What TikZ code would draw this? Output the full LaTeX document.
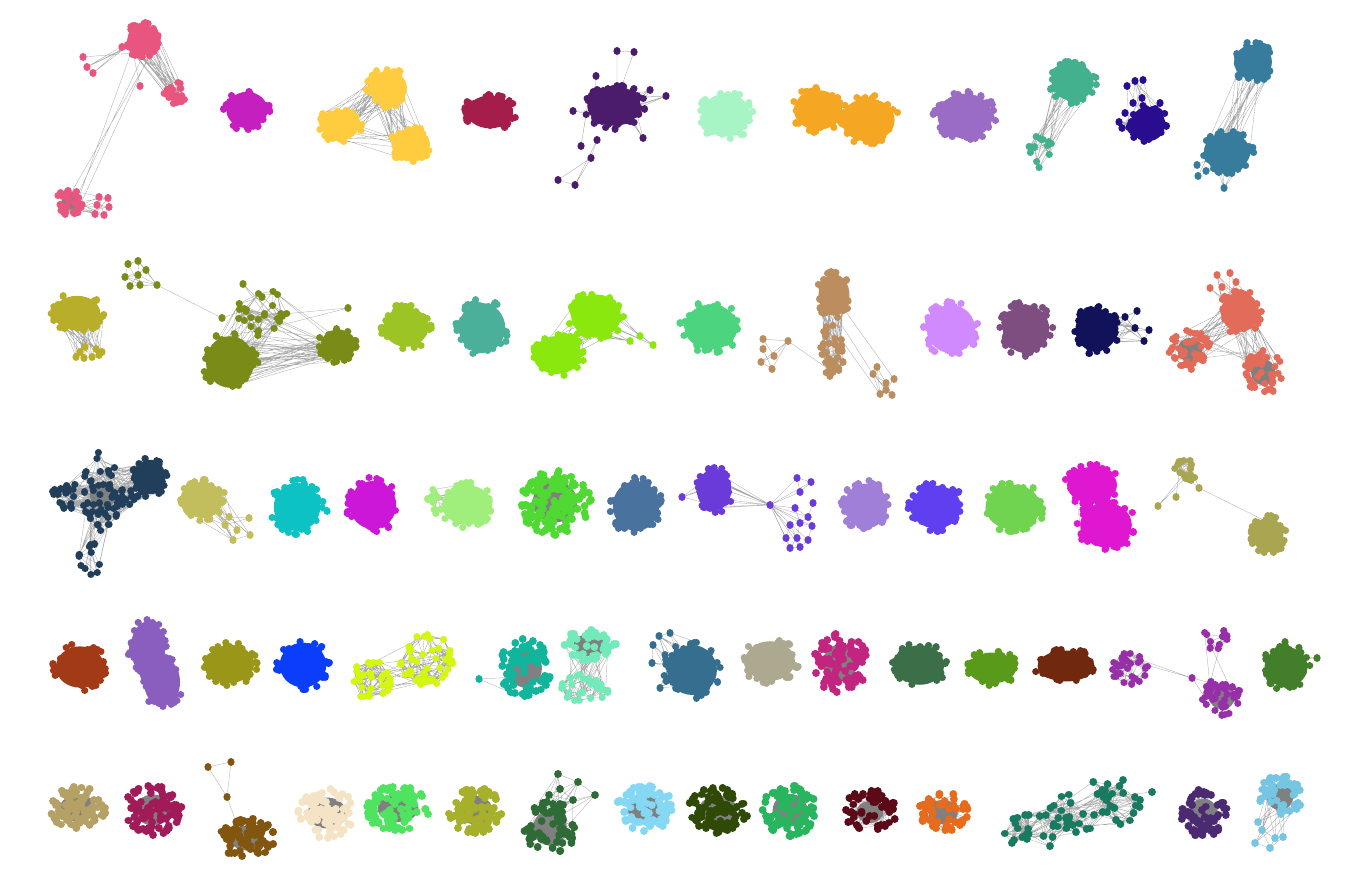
\documentclass[tikz,border=0pt]{standalone}
\usepackage{tikz}
\definecolor{eg}{HTML}{808080}
\definecolor{cA}{HTML}{E8557F}\definecolor{cB}{HTML}{C51FBF}\definecolor{cC}{HTML}{FFCC3F}
\definecolor{cD}{HTML}{A51D4B}\definecolor{cE}{HTML}{4B1B6C}\definecolor{cF}{HTML}{A7F4C5}
\definecolor{cG}{HTML}{F5A623}\definecolor{cH}{HTML}{9A6CC5}\definecolor{cI}{HTML}{43B08E}
\definecolor{cJ}{HTML}{2A0C90}\definecolor{cK}{HTML}{377C9C}\definecolor{cLy}{HTML}{B8AE29}
\definecolor{cL}{HTML}{7A8C17}\definecolor{cM}{HTML}{9BC424}\definecolor{cN}{HTML}{4BB09A}
\definecolor{cO}{HTML}{8BE80F}\definecolor{cP}{HTML}{4CD47F}\definecolor{cQ}{HTML}{BC8E5F}
\definecolor{cR}{HTML}{D18AFE}\definecolor{cS}{HTML}{7D4E7F}\definecolor{cT}{HTML}{12125A}
\definecolor{cU}{HTML}{E26C59}
\definecolor{dA}{HTML}{213F5A}\definecolor{dB}{HTML}{C2BD5D}\definecolor{dC}{HTML}{0CC2C3}
\definecolor{dD}{HTML}{CC17D8}\definecolor{dE}{HTML}{A0EE7B}\definecolor{dF}{HTML}{50D933}
\definecolor{dG}{HTML}{49739E}\definecolor{dH}{HTML}{6A3BD8}\definecolor{dI}{HTML}{A07FD8}
\definecolor{dJ}{HTML}{5F3FF0}\definecolor{dK}{HTML}{70D450}\definecolor{dL}{HTML}{E017D0}
\definecolor{dM}{HTML}{A9A550}
\definecolor{eA}{HTML}{A23A18}\definecolor{eB}{HTML}{8A5EBF}\definecolor{eC}{HTML}{9A9618}
\definecolor{eD}{HTML}{0B3EFA}\definecolor{eE}{HTML}{D4F60F}\definecolor{eF}{HTML}{10B59B}
\definecolor{eG}{HTML}{72EAB9}\definecolor{eH}{HTML}{356E8E}\definecolor{eI}{HTML}{ADA990}
\definecolor{eJ}{HTML}{C1257F}\definecolor{eK}{HTML}{3A6F48}\definecolor{eL}{HTML}{5A9A1A}
\definecolor{eM}{HTML}{70290F}\definecolor{eN}{HTML}{962FA8}\definecolor{eO}{HTML}{437E2A}
\definecolor{fA}{HTML}{B5A065}\definecolor{fB}{HTML}{A01B58}\definecolor{fC}{HTML}{82560F}
\definecolor{fD}{HTML}{F4E3C5}\definecolor{fE}{HTML}{4EE45F}\definecolor{fF}{HTML}{A7B02A}
\definecolor{fG}{HTML}{2E6B36}\definecolor{fH}{HTML}{84D8F3}\definecolor{fI}{HTML}{2E4A06}
\definecolor{fJ}{HTML}{28B55E}\definecolor{fK}{HTML}{5C0A17}\definecolor{fL}{HTML}{E66B1C}
\definecolor{fM}{HTML}{177A61}\definecolor{fN}{HTML}{4B2A72}\definecolor{fO}{HTML}{76C5E3}
\def\Kr{3.6}\def\Kq{3.9}\def\Kex{0.4}\def\Kbs{0.86}
% random points in an ellipse
\newcommand\Kpts[6]{%
  \expandafter\xdef\csname cn@#1\endcsname{#6}%
  \foreach \i in {1,...,#6}{%
    \pgfmathsetmacro\ang{rnd*360}%
    \pgfmathsetmacro\rr{rnd^\Kex}%
    \pgfmathsetmacro\px{#2+#4*\rr*cos(\ang)}%
    \pgfmathsetmacro\py{#3+#5*\rr*sin(\ang)}%
    \expandafter\xdef\csname px@#1@\i\endcsname{\px}%
    \expandafter\xdef\csname py@#1@\i\endcsname{\py}%
    \coordinate (#1-\i) at (\px,\py);%
  }}
% fixed points
\newcommand\Kfix[2]{%
  \foreach \xx/\yy [count=\i] in {#2}{%
    \expandafter\xdef\csname px@#1@\i\endcsname{\xx}%
    \expandafter\xdef\csname py@#1@\i\endcsname{\yy}%
    \coordinate (#1-\i) at (\xx,\yy);%
    \xdef\Klast{\i}}%
  \expandafter\xdef\csname cn@#1\endcsname{\Klast}}
\newcommand\Kedge[2]{\Kbridge{#1}{#1}{#2}}
\newcommand\Kbridge[3]{%
  \edef\na{\csname cn@#1\endcsname}\edef\nb{\csname cn@#2\endcsname}%
  \gdef\Klist{}%
  \foreach \k in {1,...,#3}{%
    \pgfmathtruncatemacro\ka{min(\na,1+floor(rnd*\na))}%
    \pgfmathtruncatemacro\kb{min(\nb,1+floor(rnd*\nb))}%
    \xdef\Klist{\Klist (#1-\ka) -- (#2-\kb) }}%
  \draw[edge] \Klist;}
\newcommand\Knear[2]{%
  \edef\nn{\csname cn@#1\endcsname}%
  \gdef\Klist{}%
  \foreach \i in {1,...,\nn}{%
    \foreach \j in {\i,...,\nn}{%
      \edef\xa{\csname px@#1@\i\endcsname}\edef\ya{\csname py@#1@\i\endcsname}%
      \edef\xb{\csname px@#1@\j\endcsname}\edef\yb{\csname py@#1@\j\endcsname}%
      \pgfmathtruncatemacro\ok{veclen(\xa-\xb,\ya-\yb)<#2}%
      \ifnum\ok=1 \xdef\Klist{\Klist (#1-\i) -- (#1-\j) }\fi}}%
  \draw[edge] \Klist;}
\newcommand\Kdots[3]{%
  \edef\nn{\csname cn@#1\endcsname}%
  \draw[#2, line width=2*#3, line cap=round] \foreach \i in {1,...,\nn}{(#1-\i) -- ++(0.02,0)};}
\newcommand\Kbase[5]{\fill[#5] (#1,#2) ellipse [x radius={\Kbs*#3}, y radius={\Kbs*#4}];}
\newcommand\Solid[7]{\Kpts{#1}{#2}{#3}{#4}{#5}{#6}\Kbase{#2}{#3}{#4}{#5}{#7}\Kdots{#1}{#7}{\Kr}}
\newcommand\Grey[7]{{\def\Kex{0.5}\def\Kbs{0.62}\Kpts{#1}{#2}{#3}{#4}{#5}{#6}\Kbase{#2}{#3}{#4}{#5}{eg}\Kdots{#1}{#7}{\Kq}}}
\begin{document}
\begin{tikzpicture}[x=1pt,y=-1pt,edge/.style={draw=eg!70,line width=0.3pt}]
\pgfmathsetseed{7}
\useasboundingbox (0,0) rectangle (1360,896);
% ===== Row 1 =====
% pink
\Kpts{pa}{142}{40}{17}{18}{52}\Kpts{pb}{175}{94}{11}{13}{22}\Kpts{pc}{70}{202}{14}{13}{32}
\Kfix{pd}{83/57,87/67,93/73,140/86,122/47}
\Kfix{pe}{99/197,108/198,109/207,97/205,95/214,104/215}
\Kbridge{pa}{pb}{30}\Kbridge{pa}{pd}{10}\Kbridge{pa}{pc}{4}\Kbridge{pc}{pe}{14}
\Kedge{pb}{50}\Kedge{pc}{40}\Kedge{pe}{8}
\Kbase{142}{40}{17}{18}{cA}{\def\Kbs{0.6}\Kbase{70}{202}{14}{13}{eg}}
\Kdots{pa}{cA}{\Kr}\Kdots{pb}{cA}{\Kr}\Kdots{pc}{cA}{\Kr}\Kdots{pd}{cA}{\Kr}\Kdots{pe}{cA}{\Kr}
% magenta
\Solid{mg}{247}{110}{24}{21}{55}{cB}
% yellow
\Kpts{ya}{388}{88}{22}{20}{50}\Kpts{yb}{340}{125}{22}{18}{50}\Kpts{yc}{410}{145}{21}{19}{48}
\Kbridge{ya}{yb}{30}\Kbridge{ya}{yc}{30}\Kbridge{yb}{yc}{8}
\Kbase{388}{88}{22}{20}{cC}\Kbase{340}{125}{22}{18}{cC}\Kbase{410}{145}{21}{19}{cC}
\Kdots{ya}{cC}{\Kr}\Kdots{yb}{cC}{\Kr}\Kdots{yc}{cC}{\Kr}
% crimson
\Solid{cr}{490}{112}{27}{19}{52}{cD}
% dark purple
\Kpts{pu}{614}{106}{31}{23}{74}
\Kfix{pv}{617/51,634/52,591/158,558/180,575/185,617/86,621/88,597/140}
\Kfix{pw}{573/111,596/76,666/96,643/138,581/146,650/90}
\draw[edge] (pv-1) -- (pv-2) (pv-1) -- (pv-6) (pv-2) -- (pv-7) (pv-3) -- (pv-4) (pv-3) -- (pv-5) (pv-4) -- (pv-5) (pv-3) -- (pv-8) (pv-5) -- (pv-8);
\Kbridge{pu}{pw}{20}\Kedge{pu}{40}
\Kbase{614}{106}{31}{23}{cE}
\Kdots{pu}{cE}{\Kr}\Kdots{pv}{cE}{\Kr}\Kdots{pw}{cE}{\Kr}
% mint, orange, lavender
\Solid{mi}{726}{115}{28}{25}{60}{cF}
\Solid{oa}{818}{110}{28}{23}{58}{cG}\Solid{ob}{868}{120}{31}{25}{62}{cG}
\Solid{lv}{965}{116}{32}{26}{68}{cH}
% teal
\Kpts{ta}{1073}{82}{24}{22}{52}\Kpts{tb}{1040}{152}{13}{18}{14}
\Kbridge{ta}{tb}{18}\Kedge{tb}{30}
\Kbase{1073}{82}{24}{22}{cI}\Kdots{ta}{cI}{\Kr}\Kdots{tb}{cI}{\Kr}
% indigo
\Kpts{ia}{1148}{124}{20}{20}{46}
\Kfix{ib}{1127/86,1135/81,1143/80,1142/98,1133/103,1125/113,1119/122,1160/103,1122/128}
\Kbridge{ia}{ib}{25}\Kedge{ib}{10}
\Kbase{1148}{124}{20}{20}{cJ}\Kdots{ia}{cJ}{\Kr}\Kdots{ib}{cJ}{\Kr}
% steel blue
\Kpts{sa}{1253}{62}{22}{20}{50}\Kpts{sb}{1227}{152}{27}{22}{60}
\Kfix{sc}{1224/188,1197/165,1198/176,1206/171}
\Kbridge{sa}{sb}{20}\Kbridge{sb}{sc}{10}
\Kbase{1253}{62}{22}{20}{cK}\Kbase{1227}{152}{27}{22}{cK}
\Kdots{sa}{cK}{\Kr}\Kdots{sb}{cK}{\Kr}\Kdots{sc}{cK}{\Kr}
% ===== Row 2 =====
\Kpts{oy}{77}{313}{27}{20}{56}
\Kfix{oz}{76/357,84/358,92/357,99/355,102/352,85/347,80/352,96/349}
\Kbridge{oy}{oz}{35}\Kbase{77}{313}{27}{20}{cLy}
\Kdots{oy}{cLy}{\Kr}\Kdots{oz}{cLy}{\Kr}
% olive green
\Kfix{ga}{128/264,138/261,146/270,138/275,125/277,130/286,140/285,157/285}
\Kpts{gb}{230}{362}{28}{30}{85}\Kpts{gc}{262}{312}{25}{24}{26}\Kpts{gd}{338}{345}{20}{18}{45}
\Kfix{ge}{348/308,243/284,262/297,222/318}
\Kedge{ga}{20}\draw[edge] (ga-8) -- (ge-4);
\Knear{gc}{22}\Kbridge{gc}{gb}{25}\Kbridge{gb}{gd}{35}\Kbridge{gc}{gd}{10}\Kbridge{ge}{gc}{8}
\Kbase{230}{362}{28}{30}{cL}\Kbase{338}{345}{20}{18}{cL}
\Kdots{ga}{cL}{\Kr}\Kdots{gb}{cL}{\Kr}\Kdots{gc}{cL}{\Kr}\Kdots{gd}{cL}{\Kr}\Kdots{ge}{cL}{\Kr}
\Solid{yg}{406}{327}{26}{23}{52}{cM}
\Solid{tl}{482}{328}{27}{29}{62}{cN}
% lime
\Kpts{la}{596}{316}{29}{25}{62}\Kpts{lb}{557}{355}{28}{22}{56}\Kfix{lc}{653/345,640/336,630/341}
\Kbridge{la}{lb}{20}\Kbridge{la}{lc}{10}
\Kbase{596}{316}{29}{25}{cO}\Kbase{557}{355}{28}{22}{cO}
\Kdots{la}{cO}{\Kr}\Kdots{lb}{cO}{\Kr}\Kdots{lc}{cO}{\Kr}
% green
\Kpts{gr}{711}{327}{31}{26}{66}\Kfix{gs}{680/323}\Kbridge{gr}{gs}{3}
\Kbase{711}{327}{31}{26}{cP}\Kdots{gr}{cP}{\Kr}\Kdots{gs}{cP}{\Kr}
% tan
\Kpts{na}{834}{295}{18}{24}{44}\Kpts{nb}{833}{350}{13}{27}{35}
\Kfix{nc}{763/339,763/349,774/356,761/362,772/369,788/341}
\Kfix{nd}{877/367,894/379,886/383,873/374,880/394,892/395,886/390}
\Kbridge{na}{nb}{40}\Knear{nb}{15}\Kedge{nc}{12}\Kedge{nd}{14}
\draw[edge] (nc-6) -- (nb-1);\Kbridge{nd}{na}{3}
\Kbase{834}{295}{18}{24}{cQ}
\Kdots{na}{cQ}{\Kr}\Kdots{nb}{cQ}{\Kr}\Kdots{nc}{cQ}{\Kr}\Kdots{nd}{cQ}{\Kr}
\Solid{vi}{951}{329}{28}{28}{62}{cR}
\Solid{pl}{1026}{329}{27}{28}{62}{cS}
% navy
\Kpts{nv}{1096}{330}{24}{25}{55}\Kfix{nw}{1125/317,1137/311,1135/328,1149/330,1144/341}
\Kbridge{nv}{nw}{20}\Kedge{nw}{10}
\Kbase{1096}{330}{24}{25}{cT}\Kdots{nv}{cT}{\Kr}\Kdots{nw}{cT}{\Kr}
% coral
\Kpts{ka}{1240}{312}{22}{23}{50}\Kpts{kb}{1190}{350}{21}{20}{45}\Kpts{kc}{1263}{372}{20}{22}{45}
\Kfix{kd}{1217/275,1230/273,1236/282,1222/287,1210/288}
\Kbridge{ka}{kb}{25}\Kbridge{ka}{kc}{25}\Kbridge{ka}{kd}{15}\Kbridge{kb}{kc}{5}\Kedge{kb}{40}\Kedge{kc}{40}
\Kbase{1240}{312}{22}{23}{cU}{\def\Kbs{0.6}\Kbase{1190}{350}{21}{20}{eg}\Kbase{1263}{372}{20}{22}{eg}}
\Kdots{ka}{cU}{\Kr}\Kdots{kb}{cU}{\Kr}\Kdots{kc}{cU}{\Kr}\Kdots{kd}{cU}{\Kr}
% ===== Row 3 =====
\Kpts{da}{95}{497}{45}{18}{45}\Kpts{db}{103}{488}{20}{45}{40}\Kpts{dc}{150}{477}{18}{20}{46}\Kpts{dd}{90}{560}{13}{17}{12}
\Kbridge{da}{db}{80}\Kedge{da}{80}\Kedge{db}{80}\Kbridge{db}{dc}{50}\Kbridge{da}{dc}{30}\Kbridge{db}{dd}{20}\Kedge{dd}{25}
\Kbase{150}{477}{18}{20}{dA}{\def\Kbs{0.6}\Kbase{103}{495}{22}{22}{eg}}
\Kdots{da}{dA}{\Kr}\Kdots{db}{dA}{\Kr}\Kdots{dc}{dA}{\Kr}\Kdots{dd}{dA}{\Kr}
% khaki
\Kpts{ha}{203}{500}{23}{21}{50}\Kfix{hb}{229/517,249/518,237/530,233/540,250/535,225/525}
\Kbridge{ha}{hb}{15}\Kedge{hb}{10}
\Kbase{203}{500}{23}{21}{dB}\Kdots{ha}{dB}{\Kr}\Kdots{hb}{dB}{\Kr}
% cyan
\Kpts{cy}{297}{507}{27}{28}{62}\Kfix{cz}{327/511}\Kbridge{cy}{cz}{3}
\Kbase{297}{507}{27}{28}{dC}\Kdots{cy}{dC}{\Kr}\Kdots{cz}{dC}{\Kr}
\Solid{mz}{373}{505}{27}{28}{62}{dD}
% light green
\Kpts{lg}{467}{505}{29}{23}{56}\Kpts{lh}{436}{505}{9}{17}{12}\Kbridge{lg}{lh}{25}\Kedge{lh}{10}
\Kbase{467}{505}{29}{23}{dE}\Kdots{lg}{dE}{\Kr}\Kdots{lh}{dE}{\Kr}
\Grey{bg}{555}{502}{36}{33}{130}{dF}
\Solid{sl}{636}{506}{27}{29}{62}{dG}
% purple with hub
\Kpts{pp}{714}{490}{20}{24}{48}\Kfix{po}{682/497}\Kfix{ph}{770/505}
\Kfix{pr}{797/478,811/482,800/492,813/503,795/508,808/517,790/525,800/523,812/526,786/538,797/538,808/540,800/547,790/548}
\Kbridge{pp}{ph}{12}\Kbridge{pp}{po}{4}\Kbridge{ph}{pr}{20}\Knear{pr}{16}
\Kbase{714}{490}{20}{24}{dH}
\Kdots{pp}{dH}{\Kr}\Kdots{po}{dH}{\Kr}\Kdots{ph}{dH}{\Kr}\Kdots{pr}{dH}{\Kr}
\Solid{lw}{866}{506}{25}{26}{56}{dI}
\Solid{bv}{936}{507}{29}{25}{62}{dJ}
\Solid{gn}{1013}{507}{32}{26}{68}{dK}
% magenta pair
\Kpts{ma}{1092}{485}{29}{21}{56}\Kpts{mb}{1106}{525}{30}{26}{66}\Kbridge{ma}{mb}{20}\Kedge{ma}{20}
\Kbase{1092}{485}{29}{21}{dL}\Kbase{1106}{525}{30}{26}{dL}\Kdots{ma}{dL}{\Kr}\Kdots{mb}{dL}{\Kr}
% olive khaki
\Kpts{qa}{1186}{470}{12}{12}{16}\Kfix{qb}{1158/506,1176/497,1199/488}\Kpts{qc}{1268}{535}{18}{20}{42}
\Knear{qa}{15}\Kbridge{qa}{qb}{5}\draw[edge] (qb-3) -- (qc-1);
\Kbase{1268}{535}{18}{20}{dM}\Kdots{qa}{dM}{\Kr}\Kdots{qb}{dM}{\Kr}\Kdots{qc}{dM}{\Kr}
% ===== Row 4 =====
\Solid{ru}{80}{667}{28}{24}{56}{eA}
\Kpts{ea}{148}{648}{20}{31}{50}\Kpts{eb}{162}{682}{21}{28}{50}
\Kbase{148}{648}{20}{31}{eB}\Kbase{162}{682}{21}{28}{eB}\Kdots{ea}{eB}{\Kr}\Kdots{eb}{eB}{\Kr}
\Solid{ol}{230}{664}{28}{22}{56}{eC}
\Solid{bl}{303}{665}{27}{26}{58}{eD}
\Kpts{za}{372}{680}{21}{20}{30}\Kpts{zb}{428}{660}{28}{27}{45}
\Knear{za}{20}\Knear{zb}{20}\Kbridge{za}{zb}{15}\Kdots{za}{eE}{\Kr}\Kdots{zb}{eE}{\Kr}
\Kpts{te}{525}{668}{26}{30}{70}\Kfix{tf}{479/679}\Kbridge{te}{tf}{2}
{\def\Kbs{0.65}\Kbase{525}{668}{26}{30}{eg}}\Kdots{te}{eF}{\Kq}\Kdots{tf}{eF}{\Kr}
\Kpts{mu}{590}{645}{26}{17}{45}\Kpts{mv}{587}{688}{27}{15}{28}\Kbridge{mu}{mv}{30}\Knear{mv}{18}
{\def\Kbs{0.65}\Kbase{590}{645}{26}{17}{eg}}\Kdots{mu}{eG}{\Kq}\Kdots{mv}{eG}{\Kr}
\Kpts{st}{692}{670}{29}{29}{66}\Kfix{su}{659/636,670/633,653/645,652/663,660/688,665/655}
\Kbridge{st}{su}{20}\Kedge{su}{8}
\Kbase{692}{670}{29}{29}{eH}\Kdots{st}{eH}{\Kr}\Kdots{su}{eH}{\Kr}
\Solid{gy}{770}{661}{29}{23}{58}{eI}
\Grey{mp}{840}{663}{28}{30}{95}{eJ}
\Solid{dg}{920}{665}{28}{23}{58}{eK}
\Solid{gm}{992}{668}{28}{18}{50}{eL}
\Solid{br}{1066}{666}{33}{18}{56}{eM}
\Kpts{va}{1130}{670}{19}{17}{28}\Kfix{vh}{1192/678}\Kpts{vt}{1215}{638}{13}{12}{11}\Kpts{vb}{1222}{697}{20}{19}{44}
\Knear{va}{16}\Knear{vt}{16}\Kbridge{va}{vh}{2}\Kbridge{vh}{vb}{2}\Kbridge{vt}{vb}{3}\Kedge{vb}{30}
{\def\Kbs{0.65}\Kbase{1222}{697}{20}{19}{eg}}
\Kdots{va}{eN}{\Kr}\Kdots{vh}{eN}{\Kr}\Kdots{vt}{eN}{\Kr}\Kdots{vb}{eN}{\Kr}
\Kpts{gt}{1286}{667}{25}{23}{56}\Kfix{gu}{1317/658,1285/642}\Kbridge{gt}{gu}{6}
\Kbase{1286}{667}{25}{23}{eO}\Kdots{gt}{eO}{\Kr}\Kdots{gu}{eO}{\Kr}
% ===== Row 5 =====
\Grey{ka5}{78}{808}{29}{22}{82}{fA}
\Grey{cb5}{153}{810}{29}{25}{85}{fB}
{\def\Kex{0.5}\Kpts{bb5}{247}{838}{28}{20}{75}}\Kfix{bc5}{208/767,231/762,227/797,236/822}
\draw[edge] (bc5-1) -- (bc5-2) -- (bc5-3) -- (bc5-1) (bc5-3) -- (bc5-4);
{\def\Kbs{0.62}\Kbase{247}{838}{28}{20}{eg}}\Kdots{bb5}{fC}{\Kq}\Kdots{bc5}{fC}{\Kr}
\Grey{be}{327}{813}{31}{25}{85}{fD}
\Grey{ge5}{398}{808}{33}{23}{88}{fE}
\Grey{oe5}{475}{810}{28}{23}{78}{fF}
\Kpts{fa5}{550}{828}{26}{27}{62}
\Kfix{fb5}{558/774,578/782,595/795,549/795,560/789,543/803,563/805,573/800}
\Knear{fb5}{30}\Kbridge{fa5}{fb5}{25}\Kedge{fa5}{60}
{\def\Kbs{0.65}\Kbase{550}{828}{26}{27}{eg}}\Kdots{fa5}{fG}{\Kq}\Kdots{fb5}{fG}{\Kq}
\Grey{lx}{645}{808}{29}{23}{80}{fH}
\Grey{do}{718}{810}{31}{23}{85}{fI}
\Grey{gf5}{790}{810}{28}{26}{85}{fJ}
\Kpts{mr}{870}{812}{27}{22}{52}\Kedge{mr}{60}{\def\Kbs{0.5}\Kbase{870}{812}{27}{22}{eg}}\Kdots{mr}{fK}{\Kq}
\Kpts{or}{943}{812}{25}{20}{50}\Kedge{or}{60}{\def\Kbs{0.6}\Kbase{943}{812}{25}{20}{eg}}\Kdots{or}{fL}{\Kq}
\Kpts{wa}{1040}{830}{40}{18}{28}\Kpts{wb}{1095}{805}{45}{25}{38}\Kfix{wc}{1152/792,1123/780,1140/800}
\Knear{wa}{25}\Knear{wb}{25}\Kbridge{wa}{wb}{30}\Kbridge{wb}{wc}{8}
\Kdots{wa}{fM}{\Kq}\Kdots{wb}{fM}{\Kq}\Kdots{wc}{fM}{\Kq}
\Kpts{dp}{1203}{813}{24}{24}{56}\Kedge{dp}{80}{\def\Kbs{0.6}\Kbase{1203}{813}{24}{24}{eg}}\Kdots{dp}{fN}{\Kq}
\Kpts{sk}{1280}{797}{22}{22}{50}\Kfix{sq}{1262/830,1275/838,1255/843,1270/848,1283/837,1258/822}
\Knear{sq}{20}\Kbridge{sk}{sq}{15}
{\def\Kbs{0.6}\Kbase{1280}{797}{22}{22}{eg}}\Kdots{sk}{fO}{\Kq}\Kdots{sq}{fO}{\Kq}
\end{tikzpicture}
\end{document}
